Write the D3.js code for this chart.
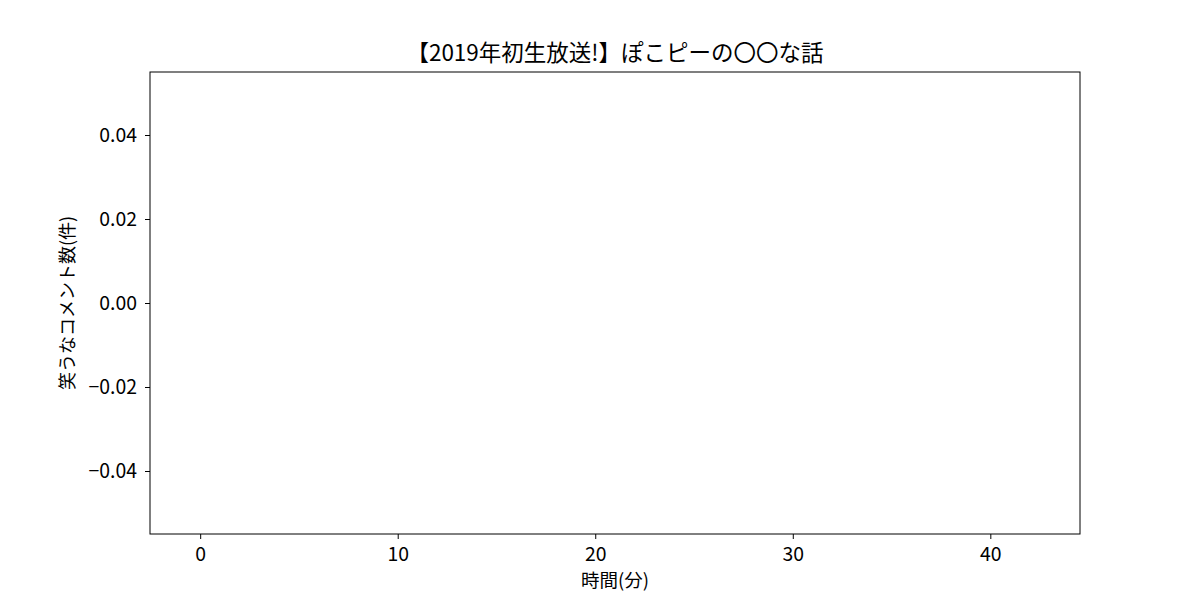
<!DOCTYPE html>
<html><head><meta charset="utf-8">
<script src="https://cdn.jsdelivr.net/npm/d3@7"></script>
<style>body{margin:0;background:#fff}text{font-family:"Noto Sans CJK JP","Noto Sans",sans-serif}</style>
</head><body><svg id="c" width="1200" height="600"></svg>
<script>
const title = "【2019年初生放送!】ぽこピーの〇〇な話";
const xLabel = "時間(分)";
const yLabel = "笑うなコメント数(件)";
const minutes = d3.range(0, 43);
const counts = minutes.map(() => 0);
const xTicks = [0, 10, 20, 30, 40];
const yTicks = [-0.04, -0.02, 0.00, 0.02, 0.04];

const svg = d3.select("#c");
const L = 150, R = 1080, T = 72, B = 534;
const barW = 0.8;
const x0 = -barW/2, x1 = 42 + barW/2, pad = (x1 - x0) * 0.05;
const x = d3.scaleLinear().domain([x0 - pad, x1 + pad]).range([L, R]);
const y = d3.scaleLinear().domain([-0.055, 0.055]).range([B, T]);

svg.append("g").selectAll("rect").data(minutes).join("rect")
  .attr("x", d => x(d - barW/2)).attr("width", d => x(d + barW/2) - x(d - barW/2))
  .attr("y", (d,i) => y(Math.max(0, counts[i]))).attr("height", (d,i) => Math.abs(y(counts[i]) - y(0)))
  .attr("fill", "#1f77b4");

const fmt = v => (v < 0 ? "\u2212" : "") + Math.abs(v).toFixed(2);
const xa = svg.append("g").attr("transform", `translate(0,${B})`)
  .call(d3.axisBottom(x).tickValues(xTicks).tickSize(5).tickPadding(8).tickFormat(d3.format("d")));
const ya = svg.append("g").attr("transform", `translate(${L},0)`)
  .call(d3.axisLeft(y).tickValues(yTicks).tickSize(5).tickPadding(8).tickFormat(fmt));
[xa, ya].forEach(a => {
  a.select(".domain").remove();
  a.selectAll("line").attr("stroke", "#000").attr("stroke-width", 1);
  a.selectAll("text").attr("font-size", 19.4).attr("fill", "#000")
    .attr("font-family", '"Noto Sans CJK JP","Noto Sans",sans-serif');
});
svg.append("rect").attr("x", L).attr("y", T).attr("width", R - L).attr("height", B - T)
  .attr("fill", "none").attr("stroke", "#000").attr("stroke-width", 1);

svg.append("text").attr("x", (L + R)/2).attr("y", 61).attr("text-anchor", "middle")
  .attr("font-size", 22.5).text(title);
svg.append("text").attr("x", (L + R)/2).attr("y", 587).attr("text-anchor", "middle")
  .attr("font-size", 18.5).text(xLabel);
svg.append("text").attr("transform", `translate(74,${(T + B)/2}) rotate(-90)`).attr("text-anchor", "middle")
  .attr("font-size", 18).text(yLabel);
</script></body></html>
